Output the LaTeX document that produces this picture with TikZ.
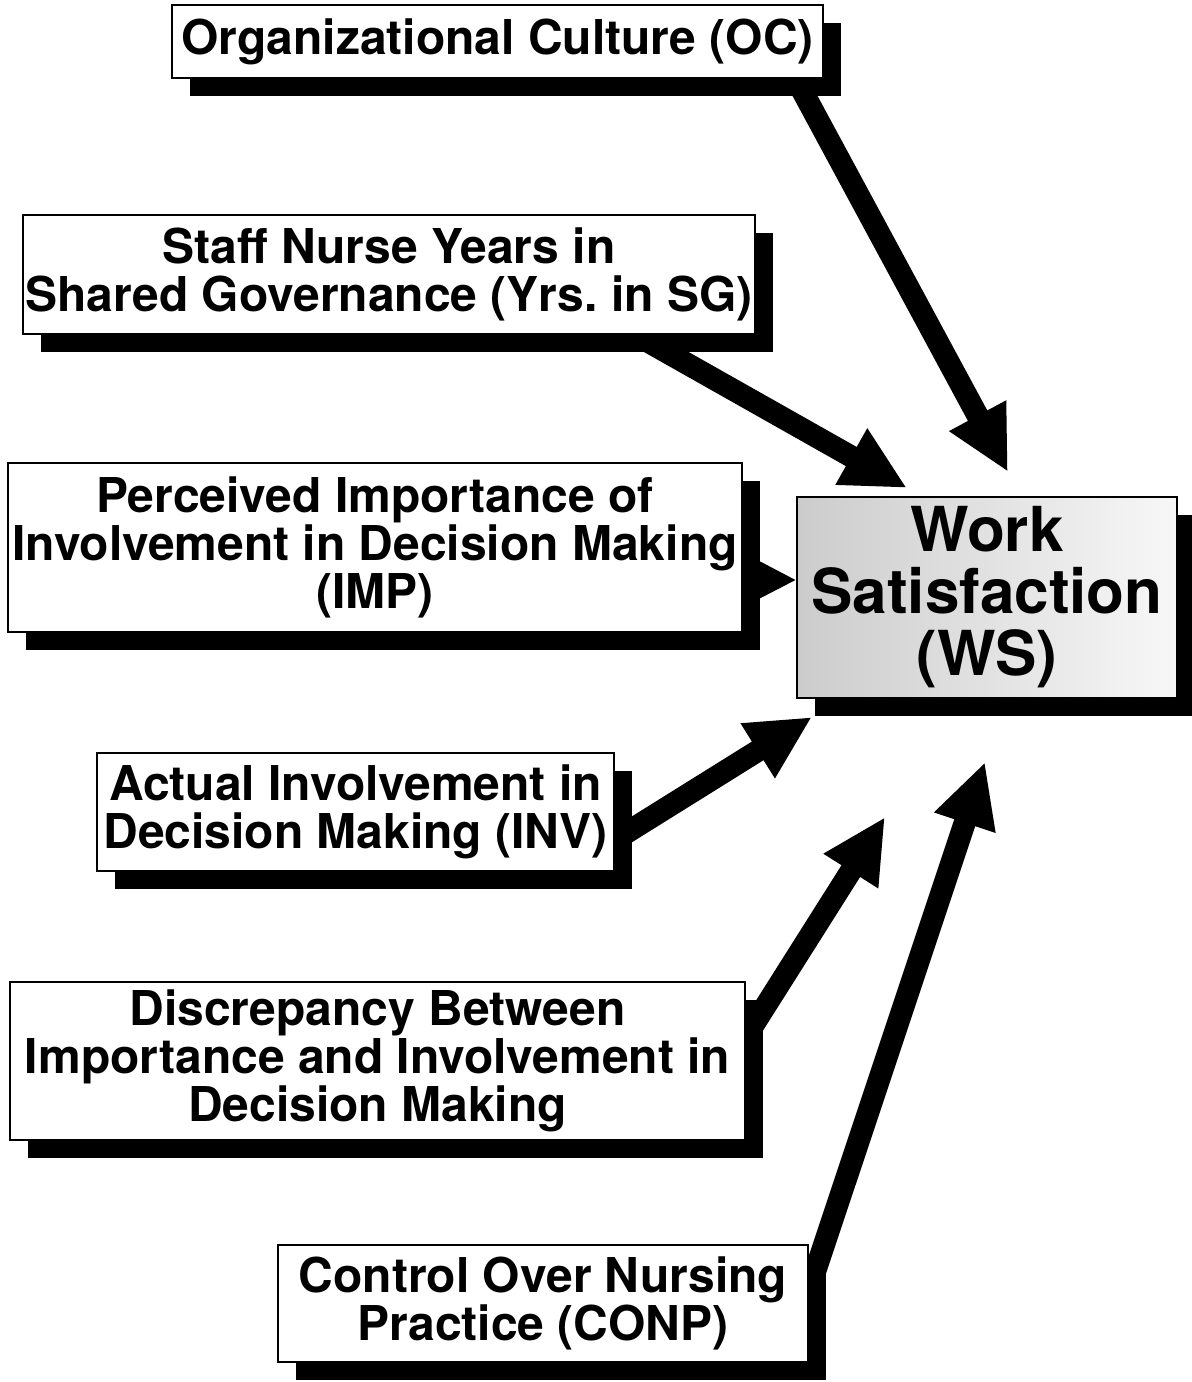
\documentclass[tikz,border=0pt]{standalone}
\usepackage{fontspec}
\setmainfont{TeX Gyre Heros}
\usetikzlibrary{arrows.meta,shadows,backgrounds}

\begin{document}
\begin{tikzpicture}[x=0.5pt,y=-0.5pt,
  var/.style n args={2}{draw,line width=0.8pt,fill=white,inner sep=0pt,align=center,
    minimum width=#1,minimum height=#2,font=\bfseries\fontsize{24}{24}\selectfont,
    drop shadow={shadow xshift=9pt,shadow yshift=-9pt,fill=black,opacity=1}},
  arr/.style={line width=11pt,-{Triangle[length=32pt,width=30pt]}}]
\useasboundingbox (0,0) rectangle (1192,1382);
\node[var={325.5pt}{36.5pt}] (OC) at (497.5,41.5) {Organizational Culture (OC)};
\node[var={366pt}{59.5pt}] (SG) at (389,274.5) {Staff Nurse Years in\\Shared Governance (Yrs.\ in SG)};
\node[var={367pt}{84.5pt}] (IMP) at (375,547.5) {Perceived Importance of\\Involvement in Decision Making\\(IMP)};
\node[var={190pt}{100.5pt},left color=black!20,right color=black!3,
  font=\bfseries\fontsize{31}{31}\selectfont] (WS) at (987,597.5) {Work\\Satisfaction\\(WS)};
\node[var={258.5pt}{59pt}] (INV) at (355.5,812) {Actual Involvement in\\Decision Making (INV)};
\node[var={367.5pt}{79pt}] (DIS) at (377.5,1061) {Discrepancy Between\\Importance and Involvement in\\Decision Making};
\node[var={265pt}{58.5pt}] (CONP) at (543,1303.5) {Control Over Nursing\\Practice (CONP)};
% arrow tips
\coordinate (tipOC) at (1008,472);
\coordinate (tipSG) at (907,488);
\coordinate (tipIMP) at (797,580);
\coordinate (tipINV) at (812,717);
\coordinate (tipDIS) at (885,817);
\coordinate (tipCONP) at (985,762);
\begin{scope}[on background layer]
\draw[arr] ([xshift=-14pt]OC.south east) -- (tipOC);
\draw[arr] ([xshift=-60pt]SG.south east) -- (tipSG);
\draw[arr] ([xshift=-60pt,yshift=-16pt]IMP.east) -- (tipIMP);
\draw[arr] ([yshift=-14pt]INV.east) -- (tipINV);
\draw[arr] ([yshift=-28pt]DIS.north east) -- (tipDIS);
\draw[arr] ([yshift=6.5pt]CONP.east) -- (tipCONP);
\end{scope}
\end{tikzpicture}
\end{document}
